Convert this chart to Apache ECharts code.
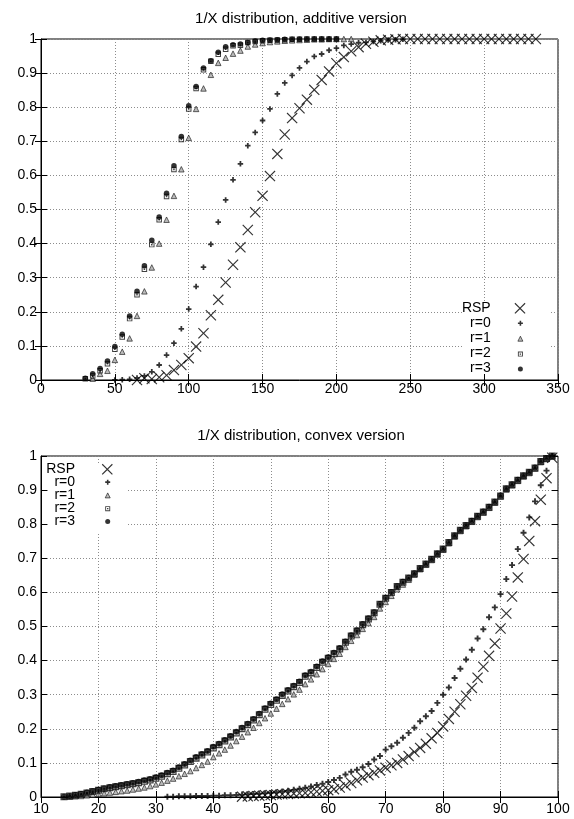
<!DOCTYPE html>
<html>
<head>
<meta charset="utf-8">
<title>1/X distribution</title>
<script src="https://cdn.jsdelivr.net/npm/echarts@6/dist/echarts.min.js"></script>
<style>
  html, body { margin: 0; padding: 0; background: #fff; }
  #chart { width: 574px; height: 819px; }
</style>
</head>
<body>
<div id="chart"></div>
<script>
// ---- top panel: additive version ----
const addRspX = [65, 70, 75, 80, 85, 90, 95, 100, 105, 110, 115, 120, 125, 130, 135, 140, 145, 150, 155, 160,
  165, 170, 175, 180, 185, 190, 195, 200, 205, 210, 215, 220, 225, 230, 235, 240, 245, 250, 255, 260,
  265, 270, 275, 280, 285, 290, 295, 300, 305, 310, 315, 320, 325, 330, 335];
const addRsp = [0.000, 0.005, 0.003, 0.008, 0.014, 0.029, 0.044, 0.064, 0.098, 0.137, 0.190, 0.235, 0.286, 0.338,
  0.389, 0.440, 0.492, 0.540, 0.598, 0.663, 0.720, 0.768, 0.797, 0.822, 0.851, 0.880, 0.905, 0.929, 0.947,
  0.964, 0.976, 0.986, 0.992, 0.996, 0.998, 0.999, 1, 1, 1, 1, 1, 1, 1, 1, 1, 1, 1, 1, 1, 1, 1, 1, 1, 1, 1];

const addR0X = [50, 55, 60, 65, 70, 75, 80, 85, 90, 95, 100, 105, 110, 115, 120, 125, 130, 135, 140, 145,
  150, 155, 160, 165, 170, 175, 180, 185, 190, 195, 200, 205, 210, 215, 220, 225, 230, 235, 240, 245];
const addR0 = [0.000, 0.001, 0.002, 0.006, 0.012, 0.024, 0.044, 0.073, 0.108, 0.150, 0.208, 0.274, 0.331, 0.398,
  0.463, 0.528, 0.587, 0.634, 0.687, 0.726, 0.761, 0.795, 0.839, 0.871, 0.893, 0.915, 0.934, 0.949, 0.956,
  0.967, 0.973, 0.981, 0.985, 0.989, 0.990, 0.993, 0.995, 0.997, 0.998, 0.999];

const addR1X = [35, 40, 45, 50, 55, 60, 65, 70, 75, 80, 85, 90, 95, 100, 105, 110, 115, 120, 125, 130,
  135, 140, 145, 150, 155, 160, 165, 170, 175, 180, 185, 190, 195, 200, 205, 210];
const addR1 = [0.004, 0.018, 0.027, 0.059, 0.083, 0.122, 0.188, 0.260, 0.330, 0.400, 0.470, 0.540, 0.618, 0.710,
  0.795, 0.855, 0.895, 0.930, 0.945, 0.957, 0.966, 0.978, 0.984, 0.988, 0.991, 0.993, 0.995, 0.996, 0.997,
  0.998, 0.999, 0.999, 1, 1, 1, 1];

const addR2X = [30, 35, 40, 45, 50, 55, 60, 65, 70, 75, 80, 85, 90, 95, 100, 105, 110, 115, 120, 125,
  130, 135, 140, 145, 150, 155, 160, 165, 170, 175, 180, 185, 190, 195, 200];
const addR2 = [0.004, 0.012, 0.027, 0.048, 0.090, 0.126, 0.180, 0.250, 0.325, 0.397, 0.470, 0.538, 0.617, 0.705,
  0.795, 0.855, 0.910, 0.935, 0.955, 0.970, 0.980, 0.982, 0.990, 0.993, 0.995, 0.996, 0.997, 0.998, 0.999,
  0.999, 1, 1, 1, 1, 1];
const addR3X = addR2X;
const addR3 = [0.005, 0.018, 0.034, 0.056, 0.098, 0.134, 0.188, 0.260, 0.335, 0.410, 0.478, 0.548, 0.628, 0.714,
  0.804, 0.861, 0.915, 0.936, 0.961, 0.977, 0.983, 0.985, 0.990, 0.994, 0.996, 0.997, 0.998, 0.999, 0.999,
  1, 1, 1, 1, 1, 1];

// ---- bottom panel: convex version ----
const cvxRspX = [45, 46, 47, 48, 49, 50, 51, 52, 53, 54, 55, 56, 57, 58, 59, 60, 61, 62, 63, 64,
  65, 66, 67, 68, 69, 70, 71, 72, 73, 74, 75, 76, 77, 78, 79, 80, 81, 82, 83, 84,
  85, 86, 87, 88, 89, 90, 91, 92, 93, 94, 95, 96, 97, 98, 99];
const cvxRsp = [0.001, 0.002, 0.003, 0.004, 0.005, 0.006, 0.007, 0.008, 0.009, 0.010,
  0.011, 0.012, 0.014, 0.016, 0.018, 0.020, 0.023, 0.028, 0.034, 0.041,
  0.049, 0.057, 0.064, 0.071, 0.078, 0.086, 0.093, 0.100, 0.110, 0.120,
  0.132, 0.144, 0.156, 0.172, 0.188, 0.207, 0.229, 0.250, 0.272, 0.297,
  0.320, 0.350, 0.382, 0.414, 0.450, 0.494, 0.538, 0.588, 0.644, 0.698,
  0.751, 0.809, 0.872, 0.935, 0.995];

const cvxR0X = [32, 33, 34, 35, 36, 37, 38, 39, 40, 41, 42, 43, 44, 45, 46, 47, 48, 49, 50, 51,
  52, 53, 54, 55, 56, 57, 58, 59, 60, 61, 62, 63, 64, 65, 66, 67, 68, 69, 70, 71,
  72, 73, 74, 75, 76, 77, 78, 79, 80, 81, 82, 83, 84, 85, 86, 87, 88, 89, 90, 91,
  92, 93, 94, 95, 96, 97, 98, 99];
const cvxR0 = [0.001, 0.001, 0.002, 0.002, 0.002, 0.003, 0.003, 0.003, 0.004, 0.004,
  0.005, 0.005, 0.006, 0.007, 0.008, 0.009, 0.010, 0.011, 0.012, 0.014,
  0.016, 0.018, 0.021, 0.024, 0.027, 0.031, 0.035, 0.039, 0.044, 0.050,
  0.056, 0.066, 0.074, 0.080, 0.087, 0.097, 0.110, 0.120, 0.139, 0.149,
  0.159, 0.174, 0.188, 0.203, 0.222, 0.237, 0.252, 0.276, 0.300, 0.321,
  0.349, 0.376, 0.403, 0.432, 0.465, 0.492, 0.527, 0.556, 0.595, 0.639,
  0.680, 0.727, 0.775, 0.820, 0.867, 0.914, 0.957, 1.000];

const cvxR1X = [15, 16, 17, 18, 19, 20, 21, 22, 23, 24, 25, 26, 27, 28, 29, 30, 31, 32, 33, 34,
  35, 36, 37, 38, 39, 40, 41, 42, 43, 44, 45, 46, 47, 48, 49, 50, 51, 52, 53, 54,
  55, 56, 57, 58, 59, 60, 61, 62, 63, 64, 65, 66, 67, 68, 69, 70, 71, 72, 73, 74,
  75, 76, 77, 78, 79, 80, 81, 82, 83, 84, 85, 86, 87, 88, 89, 90, 91, 92, 93, 94,
  95, 96, 97, 98, 99];
const cvxR1 = [0.001, 0.002, 0.003, 0.005, 0.007, 0.009, 0.011, 0.013, 0.015, 0.017,
  0.019, 0.022, 0.025, 0.028, 0.032, 0.037, 0.042, 0.048, 0.054, 0.061,
  0.068, 0.076, 0.085, 0.094, 0.104, 0.117, 0.128, 0.139, 0.151, 0.164,
  0.177, 0.190, 0.203, 0.217, 0.231, 0.245, 0.259, 0.273, 0.287, 0.301,
  0.315, 0.331, 0.345, 0.360, 0.375, 0.390, 0.405, 0.420, 0.440, 0.458,
  0.475, 0.493, 0.510, 0.528, 0.553, 0.572, 0.590, 0.609, 0.623, 0.637,
  0.652, 0.668, 0.681, 0.695, 0.711, 0.725, 0.744, 0.764, 0.780, 0.794,
  0.807, 0.821, 0.834, 0.848, 0.863, 0.881, 0.902, 0.914, 0.927, 0.940,
  0.950, 0.963, 0.982, 0.991, 0.998];

const cvxR2X = [14, 15, 16, 17, 18, 19, 20, 21, 22, 23, 24, 25, 26, 27, 28, 29, 30, 31, 32, 33,
  34, 35, 36, 37, 38, 39, 40, 41, 42, 43, 44, 45, 46, 47, 48, 49, 50, 51, 52, 53,
  54, 55, 56, 57, 58, 59, 60, 61, 62, 63, 64, 65, 66, 67, 68, 69, 70, 71, 72, 73,
  74, 75, 76, 77, 78, 79, 80, 81, 82, 83, 84, 85, 86, 87, 88, 89, 90, 91, 92, 93,
  94, 95, 96, 97, 98, 99];
const cvxR2 = [0.001, 0.003, 0.005, 0.008, 0.012, 0.016, 0.020, 0.024, 0.027, 0.030,
  0.033, 0.036, 0.039, 0.042, 0.046, 0.050, 0.055, 0.061, 0.068, 0.075,
  0.084, 0.094, 0.104, 0.114, 0.123, 0.132, 0.144, 0.153, 0.164, 0.176,
  0.188, 0.200, 0.212, 0.226, 0.241, 0.257, 0.271, 0.284, 0.298, 0.311,
  0.323, 0.336, 0.354, 0.364, 0.380, 0.395, 0.407, 0.420, 0.434, 0.454,
  0.472, 0.487, 0.505, 0.522, 0.540, 0.565, 0.583, 0.600, 0.617, 0.630,
  0.642, 0.655, 0.670, 0.683, 0.697, 0.713, 0.727, 0.746, 0.766, 0.782,
  0.796, 0.809, 0.823, 0.836, 0.850, 0.865, 0.883, 0.904, 0.916, 0.929,
  0.942, 0.952, 0.965, 0.984, 0.993, 1.000];
const cvxR3X = cvxR2X;
const cvxR3 = [0.001, 0.003, 0.006, 0.009, 0.013, 0.017, 0.021, 0.025, 0.029, 0.032,
  0.035, 0.038, 0.041, 0.045, 0.049, 0.053, 0.058, 0.064, 0.071, 0.078,
  0.087, 0.097, 0.107, 0.117, 0.126, 0.135, 0.147, 0.156, 0.167, 0.179,
  0.191, 0.203, 0.215, 0.229, 0.244, 0.260, 0.274, 0.287, 0.301, 0.314,
  0.326, 0.339, 0.357, 0.367, 0.383, 0.398, 0.410, 0.423, 0.437, 0.456,
  0.474, 0.489, 0.507, 0.524, 0.542, 0.566, 0.584, 0.601, 0.618, 0.631,
  0.643, 0.656, 0.671, 0.684, 0.698, 0.714, 0.728, 0.747, 0.767, 0.783,
  0.797, 0.810, 0.824, 0.837, 0.851, 0.866, 0.884, 0.905, 0.917, 0.930,
  0.943, 0.953, 0.966, 0.985, 0.994, 1.000];

const seriesNames = ['RSP', 'r=0', 'r=1', 'r=2', 'r=3'];

const FONT = '"Liberation Sans", Arial, Helvetica, sans-serif';
// gnuplot-like point types
const X_PATH = 'path://M0,0.75L0.75,0L5,4.25L9.25,0L10,0.75L5.75,5L10,9.25L9.25,10L5,5.75L0.75,10L0,9.25L4.25,5Z';
const PLUS_PATH = 'path://M3.4,0H6.6V3.4H10V6.6H6.6V10H3.4V6.6H0V3.4H3.4Z';
const BOX_PATH = 'path://M0,0H10V10H0Z M1.8,1.8V8.2H8.2V1.8Z M3.6,3.6H6.4V6.4H3.6Z';
const TRI_STYLE = { color: '#aaa', borderColor: '#111', borderWidth: 0.8 };

const zip = (xs, ys) => xs.map((x, i) => [x, ys[i]]);

function panelSeries(axisIndex, sets, sz) {
  const base = { type: 'scatter', xAxisIndex: axisIndex, yAxisIndex: axisIndex, silent: true };
  return [
    Object.assign({}, base, { name: seriesNames[0], symbol: X_PATH, symbolSize: sz.x,
      itemStyle: { color: '#000' }, data: sets[0] }),
    Object.assign({}, base, { name: seriesNames[1], symbol: PLUS_PATH, symbolSize: sz.plus,
      itemStyle: { color: '#000' }, data: sets[1] }),
    Object.assign({}, base, { name: seriesNames[2], symbol: 'triangle', symbolSize: sz.tri,
      itemStyle: TRI_STYLE, data: sets[2] }),
    Object.assign({}, base, { name: seriesNames[3], symbol: BOX_PATH, symbolSize: sz.box,
      itemStyle: { color: '#111' }, data: sets[3] }),
    Object.assign({}, base, { name: seriesNames[4], symbol: 'circle', symbolSize: sz.dot,
      itemStyle: { color: '#000' }, data: sets[4] })
  ];
}

function panelAxes(gridIndex, min, max, step, labelMargin) {
  const tick = { show: true, inside: true, length: 6, lineStyle: { color: '#000' } };
  const dotted = { show: true, lineStyle: { color: '#8c8c8c', type: [1, 2], width: 1 } };
  const label = { color: '#000', fontSize: 14, fontFamily: FONT };
  const main = (extra) => Object.assign({
    gridIndex, type: 'value',
    axisLine: { show: true, onZero: false, lineStyle: { color: '#000' } },
    axisTick: tick, splitLine: dotted
  }, extra);
  const mirror = (extra) => Object.assign({
    gridIndex, type: 'value',
    axisLine: { show: false }, axisTick: tick, axisLabel: { show: false }, splitLine: { show: false }
  }, extra);
  return {
    x: [
      main({ min, max, interval: step, axisLabel: Object.assign({ margin: labelMargin }, label) }),
      mirror({ position: 'top', min, max, interval: step })
    ],
    y: [
      main({ min: 0, max: 1, interval: 0.1, axisLabel: Object.assign({ margin: 4 }, label) }),
      mirror({ position: 'right', min: 0, max: 1, interval: 0.1 })
    ]
  };
}

// key symbols come from the legend (labels drawn separately, right-aligned like gnuplot)
function keyIcons(cx, rowY, step) {
  const common = {
    orient: 'vertical', align: 'left', padding: 0, selectedMode: false,
    formatter: () => '', textStyle: { fontSize: 1, lineHeight: 1 }
  };
  return [
    Object.assign({}, common, { left: cx - 5.5, top: rowY - 5.5, itemWidth: 11, itemHeight: 11,
      data: [seriesNames[0]] }),
    Object.assign({}, common, { left: cx - 2.5, top: rowY + step - 2.5, itemWidth: 5, itemHeight: 5,
      itemGap: step - 5,
      data: [seriesNames[1], { name: seriesNames[2], itemStyle: TRI_STYLE }, seriesNames[3], seriesNames[4]] })
  ];
}

function keyLabels(xRight, rowY, step) {
  return seriesNames.map((n, i) => ({
    type: 'text', z: 5, silent: true,
    style: { text: n, x: xRight, y: rowY + i * step, align: 'right', verticalAlign: 'middle',
      fontSize: 14, fontFamily: FONT, fill: '#000' }
  }));
}

const topAxes = panelAxes(0, 0, 350, 50, 2);
const botAxes = panelAxes(1, 10, 100, 10, 5);

const titleStyle = { fontSize: 15, fontWeight: 'normal', color: '#000', fontFamily: FONT, lineHeight: 16 };

const chart = echarts.init(document.getElementById('chart'));
chart.setOption({
  animation: false,
  backgroundColor: '#fff',
  title: [
    { text: '1/X distribution, additive version', left: 301, top: 11, textAlign: 'center', padding: 0, textStyle: titleStyle },
    { text: '1/X distribution, convex version', left: 301, top: 428, textAlign: 'center', padding: 0, textStyle: titleStyle }
  ],
  grid: [
    { left: 41, right: 16, top: 39, height: 341, show: true, borderColor: '#000', borderWidth: 1, outerBoundsMode: 'none' },
    { left: 41, right: 16, top: 456, height: 341, show: true, borderColor: '#000', borderWidth: 1, outerBoundsMode: 'none' }
  ],
  xAxis: topAxes.x.concat(botAxes.x),
  yAxis: topAxes.y.concat(botAxes.y),
  legend: keyIcons(520, 308.3, 15).concat(keyIcons(107.3, 469.3, 12.85)),
  graphic: [
    // key boxes blank out the grid behind them, as gnuplot does
    { type: 'rect', z: 1, silent: true, shape: { x: 464, y: 302, width: 87, height: 71 }, style: { fill: '#fff' } },
    { type: 'rect', z: 1, silent: true, shape: { x: 48, y: 463, width: 79, height: 71 }, style: { fill: '#fff' } }
  ].concat(keyLabels(490.7, 308.3, 15), keyLabels(75, 469.3, 12.85)),
  series: panelSeries(0,
      [zip(addRspX, addRsp), zip(addR0X, addR0), zip(addR1X, addR1), zip(addR2X, addR2), zip(addR3X, addR3)],
      { x: 11, plus: 5.5, tri: 5.5, box: 5.5, dot: 5.5 })
    .concat(panelSeries(2,
      [zip(cvxRspX, cvxRsp), zip(cvxR0X, cvxR0), zip(cvxR1X, cvxR1), zip(cvxR2X, cvxR2), zip(cvxR3X, cvxR3)],
      { x: 11, plus: 6, tri: 5.5, box: 7, dot: 6 }))
});
</script>
</body>
</html>
